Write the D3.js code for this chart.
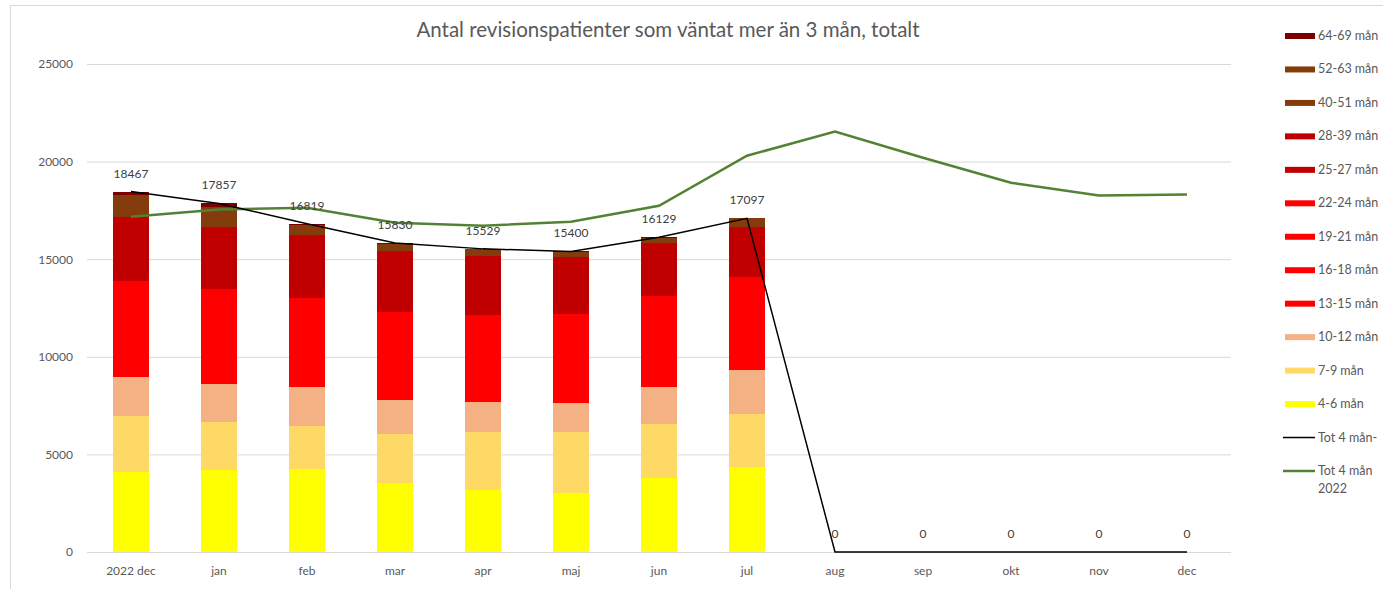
<!DOCTYPE html>
<meta charset="utf-8">
<style>
    body { margin: 0; background: #fff; }
    text { font-family: "Lato", "Noto Sans", sans-serif; fill: #595959; }
    .tick text { font-size: 12px; }
    .title { font-size: 20.5px; }
    .lbl { font-size: 12px; fill: #404040; }
    .leg { font-size: 12.5px; }
</style>
<body>
<svg id="chart" width="1383" height="589"></svg>
<script src="https://cdnjs.cloudflare.com/ajax/libs/d3/7.8.5/d3.min.js"></script>
<script>
// categories
var months = ["2022 dec", "jan", "feb", "mar", "apr", "maj", "jun", "jul", "aug", "sep", "okt", "nov", "dec"];

// stacked series (bottom to top), one value per month
var m4_6   = [4100, 4200, 4260, 3540, 3180, 3030, 3800, 4360, 0, 0, 0, 0, 0];
var m7_9   = [2870, 2470, 2200, 2510, 2970, 3120, 2760, 2720, 0, 0, 0, 0, 0];
var m10_12 = [2000, 1950, 2000, 1745, 1540, 1490, 1900, 2250, 0, 0, 0, 0, 0];
var m13_15 = [1500, 1450, 1400, 1380, 1350, 1390, 1420, 1450, 0, 0, 0, 0, 0];
var m16_18 = [1250, 1250, 1150, 1150, 1120, 1150, 1180, 1200, 0, 0, 0, 0, 0];
var m19_21 = [1200, 1200, 1100, 1080, 1090, 1110, 1140, 1170, 0, 0, 0, 0, 0];
var m22_24 = [980, 970, 910, 900, 900, 910, 930, 950, 0, 0, 0, 0, 0];
var m25_27 = [1100, 1050, 1080, 1050, 1000, 980, 900, 850, 0, 0, 0, 0, 0];
var m28_39 = [2180, 2130, 2150, 2080, 2030, 1940, 1820, 1710, 0, 0, 0, 0, 0];
var m40_51 = [900, 820, 420, 290, 260, 210, 210, 350, 0, 0, 0, 0, 0];
var m52_63 = [230, 205, 90, 70, 60, 50, 50, 87, 0, 0, 0, 0, 0];
var m64_69 = [157, 162, 59, 35, 29, 20, 19, 0, 0, 0, 0, 0, 0];

// line series
var tot4 = [18467, 17857, 16819, 15830, 15529, 15400, 16129, 17097, 0, 0, 0, 0, 0];
var tot2022 = [17180, 17540, 17640, 16870, 16720, 16920, 17740, 20300, 21540, 20200, 18920, 18260, 18320];

var yTicks = [0, 5000, 10000, 15000, 20000, 25000];

var series = [
    { name: "4-6 mån",   values: m4_6,   color: "#FFFF00" },
    { name: "7-9 mån",   values: m7_9,   color: "#FFD966" },
    { name: "10-12 mån", values: m10_12, color: "#F4B183" },
    { name: "13-15 mån", values: m13_15, color: "#FF0000" },
    { name: "16-18 mån", values: m16_18, color: "#FF0000" },
    { name: "19-21 mån", values: m19_21, color: "#FF0000" },
    { name: "22-24 mån", values: m22_24, color: "#FF0000" },
    { name: "25-27 mån", values: m25_27, color: "#C00000" },
    { name: "28-39 mån", values: m28_39, color: "#C00000" },
    { name: "40-51 mån", values: m40_51, color: "#843C0C" },
    { name: "52-63 mån", values: m52_63, color: "#843C0C" },
    { name: "64-69 mån", values: m64_69, color: "#7B0000" }
];

var svg = d3.select("#chart");

// chart frame
svg.append("rect")
    .attr("x", 10.5).attr("y", 5.5)
    .attr("width", 1400).attr("height", 600)
    .attr("fill", "none").attr("stroke", "#d9d9d9");

var x = d3.scaleBand().domain(months).range([87, 1231]).padding(0);
var y = d3.scaleLinear().domain([0, 25000]).range([552, 64]);
var barW = x.bandwidth() * 0.41;
var cx = function(m) { return x(m) + x.bandwidth() / 2; };

// gridlines + y labels
var yAxis = svg.append("g")
    .attr("transform", "translate(87,0)")
    .call(d3.axisLeft(y).tickValues(yTicks).tickSize(-1144).tickPadding(14).tickFormat(d3.format("d")));
yAxis.select(".domain").remove();
yAxis.selectAll(".tick line").attr("stroke", "#d9d9d9");

// x labels
var xAxis = svg.append("g")
    .attr("transform", "translate(0,552)")
    .call(d3.axisBottom(x).tickSize(0).tickPadding(14));
xAxis.select(".domain").remove();

// stacked bars
var rows = months.map(function(m, i) {
    var r = { month: m };
    series.forEach(function(s) { r[s.name] = s.values[i]; });
    return r;
});
var stack = d3.stack().keys(series.map(function(s) { return s.name; }));
var layers = stack(rows);

svg.append("g").selectAll("g")
    .data(layers)
    .join("g")
    .attr("fill", function(d, i) { return series[i].color; })
    .selectAll("rect")
    .data(function(d) { return d; })
    .join("rect")
    .attr("shape-rendering", "crispEdges")
    .attr("x", function(d) { return cx(d.data.month) - barW / 2; })
    .attr("y", function(d) { return y(d[1]); })
    .attr("width", barW)
    .attr("height", function(d) { return y(d[0]) - y(d[1]); });

// lines
var line = d3.line()
    .x(function(d, i) { return cx(months[i]); })
    .y(function(d) { return y(d); });

svg.append("path")
    .datum(tot2022)
    .attr("d", line)
    .attr("fill", "none")
    .attr("stroke", "#548235")
    .attr("stroke-width", 2.5);

svg.append("path")
    .datum(tot4)
    .attr("d", line)
    .attr("fill", "none")
    .attr("stroke", "#000")
    .attr("stroke-width", 1.5);

// data labels for total line
svg.append("g").selectAll("text")
    .data(tot4)
    .join("text")
    .attr("class", "lbl")
    .attr("x", function(d, i) { return cx(months[i]); })
    .attr("y", function(d) { return y(d) - 14; })
    .attr("text-anchor", "middle")
    .text(function(d) { return d; });

// title
svg.append("text")
    .attr("class", "title")
    .attr("x", 668).attr("y", 37)
    .attr("text-anchor", "middle")
    .text("Antal revisionspatienter som väntat mer än 3 mån, totalt");

// legend
var legendItems = series.slice().reverse().map(function(s) {
    return { name: s.name, color: s.color, type: "bar" };
});
legendItems.push({ name: "Tot 4 mån-", color: "#000", type: "line", w: 1.5 });
legendItems.push({ name: "Tot 4 mån", name2: "2022", color: "#548235", type: "line", w: 2.5 });

var leg = svg.append("g").selectAll("g")
    .data(legendItems)
    .join("g")
    .attr("transform", function(d, i) { return "translate(1285," + (36 + i * 33.46) + ")"; });

leg.filter(function(d) { return d.type === "bar"; })
    .append("rect")
    .attr("x", 0).attr("y", -3)
    .attr("width", 30).attr("height", 6)
    .attr("fill", function(d) { return d.color; });

leg.filter(function(d) { return d.type === "line"; })
    .append("line")
    .attr("x1", -2).attr("x2", 30)
    .attr("stroke", function(d) { return d.color; })
    .attr("stroke-width", function(d) { return d.w; });

leg.append("text")
    .attr("class", "leg")
    .attr("x", 33).attr("y", 4)
    .text(function(d) { return d.name; });

leg.filter(function(d) { return d.name2; })
    .append("text")
    .attr("class", "leg")
    .attr("x", 33).attr("y", 22)
    .text(function(d) { return d.name2; });
</script>
</body>
